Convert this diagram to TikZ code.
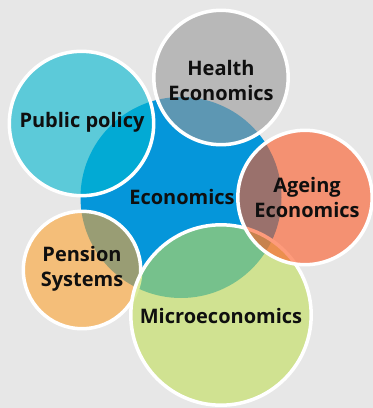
\documentclass[tikz,border=0pt]{standalone}
\usepackage{fontspec}
\setmainfont{Open Sans}
\definecolor{bg}{RGB}{231,231,231}
\definecolor{econblue}{RGB}{5,150,218}
\definecolor{cpub}{RGB}{0,184,208}
\definecolor{chealth}{RGB}{153,153,153}
\definecolor{cage}{RGB}{254,89,36}
\definecolor{cmicro}{RGB}{194,223,88}
\definecolor{cpen}{RGB}{253,163,49}
\definecolor{txt}{RGB}{15,15,15}
\begin{document}
\begin{tikzpicture}[x=1pt,y=-1pt,
  bubble/.style={fill=#1,fill opacity=0.6,draw=white,draw opacity=1,line width=3.5pt},
  lbl/.style={font=\fontsize{20}{25}\selectfont\bfseries,text=txt,align=center,inner sep=0pt}]
\fill[bg] (0,0) rectangle (373,408);
\useasboundingbox (0,0) rectangle (373,408);
\fill[econblue] (181,197.5) circle[radius=100.5];
\draw[bubble=cpen] (82,270) circle[radius=58.7];
\draw[bubble=cmicro] (221,315) circle[radius=90.2];
\draw[bubble=cpub] (81.5,123.5) circle[radius=72.2];
\draw[bubble=chealth] (221,77.5) circle[radius=67.2];
\draw[bubble=cage] (305,197.5) circle[radius=67.2];
\node[lbl] (econ) at (182,197) {Economics};
\node[lbl] (pub) at (82,122) {Public policy};
\node[lbl] (health) at (221,80) {Health\\Economics};
\node[lbl] (age) at (307,197.5) {Ageing\\Economics};
\node[lbl] (pen) at (82,268.5) {Pension\\Systems};
\node[lbl] (micro) at (221,316) {Microeconomics};
\end{tikzpicture}
\end{document}
